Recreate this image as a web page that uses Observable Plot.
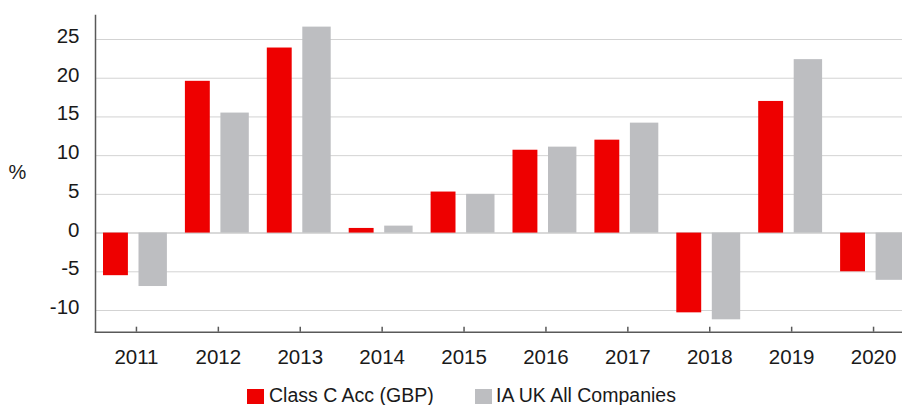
<!DOCTYPE html>
<html><head><meta charset="utf-8">
<script src="https://cdn.jsdelivr.net/npm/d3@7"></script>
<script src="https://cdn.jsdelivr.net/npm/@observablehq/plot@0.6"></script>
<style>
html,body{margin:0;padding:0;background:#fff;overflow:hidden;}
#wrap{position:relative;width:902px;height:405px;overflow:hidden;font-family:"Liberation Sans",Arial,sans-serif;color:#1a1a1a;}
.sw{position:absolute;width:17px;height:15px;}
.lt{position:absolute;font-size:19.5px;line-height:normal;white-space:nowrap;}
</style></head><body>
<div id="wrap"><div id="chart"></div></div>
<script>
const years = ["2011","2012","2013","2014","2015","2016","2017","2018","2019","2020"];
const classC = [-5.5, 19.6, 23.9, 0.6, 5.3, 10.7, 12.0, -10.3, 17.0, -5.0];
const iaUK = [-6.9, 15.5, 26.6, 0.9, 5.0, 11.1, 14.2, -11.2, 22.4, -6.1];
const seriesNames = ["Class C Acc (GBP)", "IA UK All Companies"];
const seriesColors = ["#ee0000", "#bdbec1"];
const yTicks = [-10, -5, 0, 5, 10, 15, 20, 25];
const yDomain = [-12.8, 28.1];
const yUnit = ["%"];

const rows = years.map((y, i) => ({year: y, a: classC[i], b: iaUK[i]}));
const font = "Liberation Sans, Arial, sans-serif";

const chart = Plot.plot({
  width: 902, height: 375,
  marginLeft: 95, marginRight: -12, marginTop: 15, marginBottom: 43.3,
  style: {fontFamily: font, fontSize: "20.5px", color: "#1a1a1a", background: "white", overflow: "visible"},
  x: {domain: years, padding: 0, round: false, label: null},
  y: {domain: yDomain, label: null},
  marks: [
    Plot.gridY(yTicks, {stroke: "#d3d3d3", strokeOpacity: 1}),
    Plot.ruleY([0], {stroke: "#d9d9d9", strokeWidth: 2}),
    Plot.barY(rows, {x: "year", y: "a", fill: seriesColors[0], insetLeft: 8, insetRight: 49}),
    Plot.barY(rows, {x: "year", y: "b", fill: seriesColors[1], insetLeft: 43.5, insetRight: 10}),
    Plot.axisY(yTicks, {tickSize: 0, tickPadding: 16, tickFormat: d => String(d), dy: -3, label: null, fontSize: 20.5, fill: "#1a1a1a"}),
    Plot.axisX({tickSize: -5, tickPadding: 22, stroke: "#595959", strokeWidth: 1.5, label: null, fontSize: 20.5, fill: "#1a1a1a"}),
    Plot.frame({anchor: "left", stroke: "#595959", strokeWidth: 1.5}),
    Plot.frame({anchor: "bottom", stroke: "#595959", strokeWidth: 1.5}),
    Plot.text(yUnit, {frameAnchor: "left", dx: -78, dy: -1, text: d => d, fontSize: 20, fill: "#1a1a1a", textAnchor: "middle"})
  ]
});
document.getElementById("chart").appendChild(chart);

// legend
const wrap = document.getElementById("wrap");
const legendPos = [{sw: 247, tx: 269}, {sw: 475, tx: 496}];
seriesNames.forEach((name, i) => {
  const s = document.createElement("div");
  s.className = "sw";
  s.style.left = legendPos[i].sw + "px";
  s.style.top = "389px";
  s.style.background = seriesColors[i];
  wrap.appendChild(s);
  const t = document.createElement("div");
  t.className = "lt";
  t.style.left = legendPos[i].tx + "px";
  t.style.top = "384px";
  t.textContent = name;
  wrap.appendChild(t);
});
</script>
</body></html>
